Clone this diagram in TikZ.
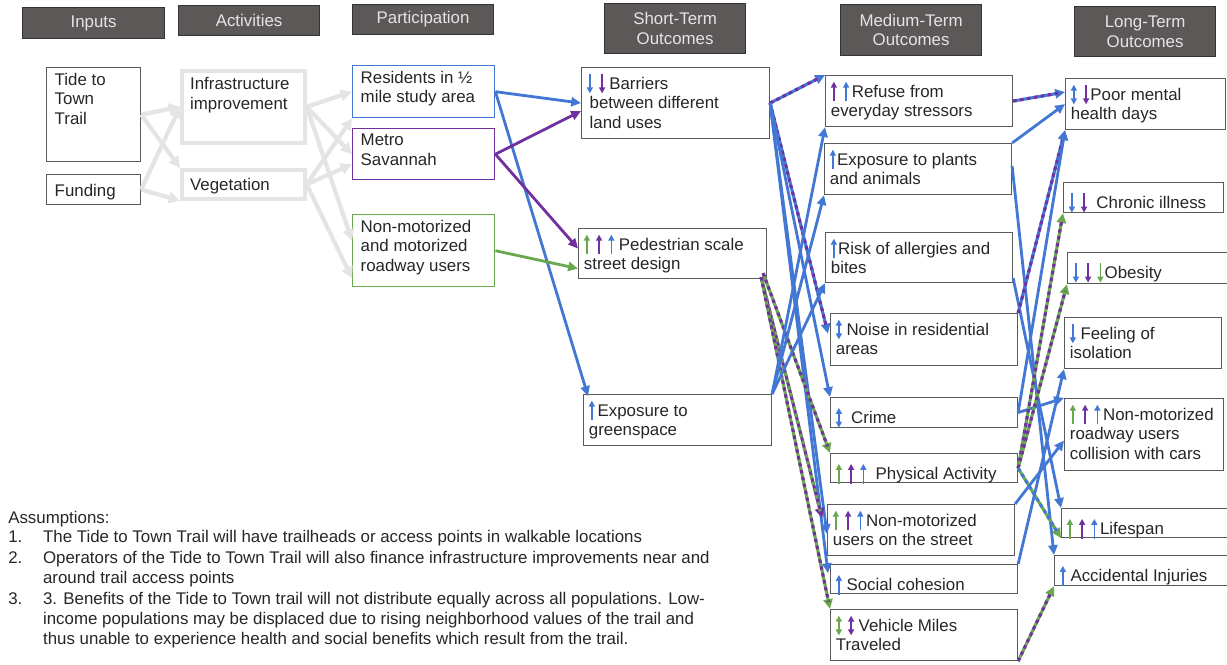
\documentclass[tikz,border=0pt]{standalone}
\usepackage{fontspec}
\setmainfont{Liberation Sans}
\usetikzlibrary{positioning,arrows.meta,calc}

\definecolor{lmblue}{RGB}{66,120,212}
\definecolor{lmpurple}{RGB}{112,48,160}
\definecolor{lmgreen}{RGB}{106,168,79}
\definecolor{hdrgray}{RGB}{92,88,88}
\definecolor{hdrtext}{RGB}{228,228,228}
\definecolor{ltgray}{RGB}{228,228,228}
\definecolor{boxline}{RGB}{90,90,90}

% small arrows inside the boxes
\newcommand{\upa}[1]{\tikz[x=1pt,y=1pt,baseline=0pt]\draw[draw=#1,line width=1.1pt,-{Triangle[length=4.2pt,width=4.2pt]}] (0,-3) -- (0,11);}
\newcommand{\dna}[1]{\tikz[x=1pt,y=1pt,baseline=0pt]\draw[draw=#1,line width=1.1pt,-{Triangle[length=4.2pt,width=4.2pt]}] (0,11) -- (0,-3);}
\newcommand{\uda}[1]{\tikz[x=1pt,y=1pt,baseline=0pt]\draw[draw=#1,line width=1.1pt,{Triangle[length=4.2pt,width=4.2pt]}-{Triangle[length=4.2pt,width=4.2pt]}] (0,-3) -- (0,11);}
\newcommand{\ag}{\hspace{4.5pt}}

\begin{document}
\begin{tikzpicture}[x=0.025cm, y=-0.025cm, font=\fontsize{12}{14}\selectfont,
  sz/.style 2 args={minimum width=#1*0.025cm, minimum height=#2*0.025cm},
  box/.style={draw=boxline, line width=0.8pt, anchor=north west, inner sep=0pt},
  actbox/.style={draw=ltgray, line width=2.6pt, anchor=north west, inner sep=0pt},
  hdr/.style={fill=hdrgray, draw=black!80, line width=0.8pt, anchor=north west, inner sep=0pt, text=hdrtext, align=center},
  txt/.style={anchor=north west, align=left, inner sep=4pt, text=black!85},
  txtone/.style={txt, yshift=-3pt},
  grayarr/.style={draw=ltgray, line width=3pt, -{Triangle[length=8pt,width=8pt]}},
  linearr/.style={line width=2pt, -{Triangle[length=7pt,width=6.5pt]}},
  bluearr/.style={linearr, draw=lmblue},
  purparr/.style={linearr, draw=lmpurple},
  grnarr/.style={linearr, draw=lmgreen},
  mixarr/.style 2 args={linearr, line width=2.2pt, draw=#1, postaction={draw=#2, dash pattern=on 2.5pt off 2.5pt, shorten >=5pt, -}}
]
\useasboundingbox (0,0) rectangle (1227,664);

%% headers
\node[hdr, sz={142}{31}] (hin)  at (22,7)   {Inputs};
\node[hdr, sz={141}{30}] (hact) at (178,5)  {Activities};
\node[hdr, sz={141}{30}] (hpar) at (352,4)  {Participation};
\node[hdr, sz={141}{50}] (hst)  at (604,3)  {Short-Term\\Outcomes};
\node[hdr, sz={141}{51}] (hmt)  at (840,4)  {Medium-Term\\Outcomes};
\node[hdr, sz={141}{50}] (hlt)  at (1074,6) {Long-Term\\Outcomes};

%% inputs and activities
\node[box, sz={94}{94}] (tide) at (46,67) {};
\node[txt, xshift=2pt] (tidet) at (tide.north west) {Tide to\\Town\\Trail};
\node[box, sz={94}{30}] (fund) at (46,174) {};
\node[txtone, xshift=2pt] (fundt) at (fund.north west) {Funding};

\node[actbox, sz={123}{72}] (infra) at (180,69) {};
\node[txt, xshift=3pt, yshift=-2pt] (infrat) at (infra.north west) {Infrastructure\\improvement};
\node[actbox, sz={123}{29}] (veg) at (180,168) {};
\node[txtone, xshift=3pt] (vegt) at (veg.north west) {Vegetation};

%% participation
\node[box, draw=lmblue, line width=1pt, sz={142}{52}] (res) at (352,65) {};
\node[txt, xshift=2pt] (rest) at (res.north west) {Residents in ½\\mile study area};
\node[box, draw=lmpurple, line width=1pt, sz={142}{51}] (metro) at (352,128) {};
\node[txt, xshift=2pt] (metrot) at (metro.north west) {Metro\\Savannah};
\node[box, draw=lmgreen, line width=1pt, sz={142}{72}] (nmr) at (352,214) {};
\node[txt, xshift=2pt] (nmrt) at (nmr.north west) {Non-motorized\\and motorized\\roadway users};

%% short-term outcomes
\node[box, sz={188}{71}] (barr) at (581,67) {};
\node[txt] (barrt) at (barr.north west) {\dna{lmblue}\ag\dna{lmpurple}\hspace{3pt}Barriers\\\hspace{2pt}between different\\\hspace{2pt}land uses};
\node[box, sz={188}{50}] (ped) at (578,228) {};
\node[txt] (pedt) at (ped.north west) {\upa{lmgreen}\ag\upa{lmpurple}\ag\upa{lmblue}\ Pedestrian scale\\street design};
\node[box, sz={188}{51}] (green) at (583,394) {};
\node[txt] (greent) at (green.north west) {\upa{lmblue}\hspace{2pt}Exposure to\\greenspace};

%% medium-term outcomes
\node[box, sz={187}{51}] (ref) at (825,75) {};
\node[txt] (reft) at (ref.north west) {\upa{lmpurple}\ag\upa{lmblue}\hspace{2pt}Refuse from\\everyday stressors};
\node[box, sz={187}{51}] (plants) at (824,143) {};
\node[txt] (plantst) at (plants.north west) {\upa{lmblue}\hspace{1pt}Exposure to plants\\and animals};
\node[box, sz={187}{50}] (risk) at (825,232) {};
\node[txt] (riskt) at (risk.north west) {\upa{lmblue}\hspace{1pt}Risk of allergies and\\bites};
\node[box, sz={187}{52}] (noise) at (830,313) {};
\node[txt] (noiset) at (noise.north west) {\uda{lmblue}\ Noise in residential\\areas};
\node[box, sz={187}{30}] (crime) at (830,397) {};
\node[txtone] (crimet) at (crime.north west) {\uda{lmblue}\ \ Crime};
\node[box, sz={187}{29}] (phys) at (830,453) {};
\node[txtone] (physt) at (phys.north west) {\upa{lmgreen}\ag\upa{lmpurple}\ag\upa{lmblue}\ \ Physical Activity};
\node[box, sz={187}{51}] (nmu) at (827,504) {};
\node[txt] (nmut) at (nmu.north west) {\upa{lmgreen}\ag\upa{lmpurple}\ag\upa{lmblue}\hspace{2pt}Non-motorized\\users on the street};
\node[box, sz={187}{29}] (soc) at (830,564) {};
\node[txtone] (soct) at (soc.north west) {\upa{lmblue}\ Social cohesion};
\node[box, sz={187}{51}] (vmt) at (830,609) {};
\node[txt] (vmtt) at (vmt.north west) {\uda{lmgreen}\ag\uda{lmpurple}\ Vehicle Miles\\Traveled};

%% long-term outcomes
\node[box, sz={160}{51}] (pmh) at (1065,78) {};
\node[txt] (pmht) at (pmh.north west) {\uda{lmblue}\ag\dna{lmpurple}\hspace{1pt}Poor mental\\health days};
\node[box, sz={160}{30}] (chr) at (1063,182) {};
\node[txtone] (chrt) at (chr.north west) {\dna{lmblue}\ag\dna{lmpurple}\ \ Chronic illness};
\node[box, sz={163}{31}] (obe) at (1067,252) {};
\node[txtone] (obet) at (obe.north west) {\dna{lmblue}\ag\dna{lmpurple}\ag\dna{lmgreen}\hspace{1pt}Obesity};
\node[box, sz={157}{51}] (iso) at (1064,317) {};
\node[txt] (isot) at (iso.north west) {\dna{lmblue}\ Feeling of\\isolation};
\node[box, sz={159}{72}] (col) at (1064,398) {};
\node[txt] (colt) at (col.north west) {\upa{lmgreen}\ag\upa{lmpurple}\ag\upa{lmblue}\hspace{2pt}Non-motorized\\roadway users\\collision with cars};
\node[box, sz={169}{29}] (life) at (1061,508) {};
\node[txtone] (lifet) at (life.north west) {\upa{lmgreen}\ag\upa{lmpurple}\ag\upa{lmblue}\hspace{2pt}Lifespan};
\node[box, sz={176}{30}] (acc) at (1054,555) {};
\node[txtone] (acct) at (acc.north west) {\upa{lmblue}\ Accidental Injuries};

%% inputs -> activities -> participation
\draw[grayarr] (tide.east) -- (infra.west);
\draw[grayarr] (tide.east) -- (veg.north west);
\draw[grayarr] (fund.east) -- (infra.west);
\draw[grayarr] (fund.east) -- (veg.south west);
\draw[grayarr] (infra.east) -- (res.west);
\draw[grayarr] (infra.east) -- (metro.west);
\draw[grayarr] (infra.east) -- ($(nmr.west)+(0,-10)$);
\draw[grayarr] (veg.east) -- (res.south west);
\draw[grayarr] (veg.east) -- ($(metro.west)+(0,10)$);
\draw[grayarr] (veg.east) -- ($(nmr.south west)+(0,-9)$);

%% participation -> short-term
\draw[bluearr] (res.east) -- (barr.west);
\draw[bluearr] (res.east) -- ($(green.north west)+(5,2)$);
\draw[purparr] (metro.east) -- ($(barr.west)+(0,8)$);
\draw[purparr] (metro.east) -- ($(ped.west)+(0,-5)$);
\draw[grnarr] (nmr.east) -- ($(ped.west)+(0,15)$);

%% short-term -> medium-term
\draw[mixarr={lmblue}{lmpurple}] (barr.east) -- (ref.north west);
\draw[mixarr={lmblue}{lmpurple}] (barr.east) -- ($(noise.west)+(-2,-6)$);
\draw[bluearr] (barr.east) -- (crime.north west);
\draw[bluearr] (barr.east) -- ($(nmu.west)+(0,4)$);
\draw[bluearr] (barr.east) -- ($(soc.west)+(-2,-6)$);
\draw[mixarr={lmgreen}{lmpurple}] ($(ped.south east)+(-4,-6)$) -- (phys.north west);
\draw[mixarr={lmpurple}{lmgreen}] ($(ped.south east)+(-6,-2)$) -- ($(nmu.west)+(-5,-12)$);
\draw[mixarr={lmgreen}{lmpurple}] ($(ped.south east)+(-6,-2)$) -- (vmt.north west);
\draw[bluearr] (green.north east) -- (ref.south west);
\draw[bluearr] (green.north east) -- (plants.south west);
\draw[bluearr] (green.north east) -- (risk.south west);

%% medium-term -> long-term
\draw[mixarr={lmblue}{lmpurple}] (ref.east) -- ($(pmh.west)+(0,-12)$);
\draw[bluearr] (plants.north east) -- (pmh.west);
\draw[bluearr] ($(plants.east)+(0,-3)$) -- (acc.north west);
\draw[bluearr] ($(risk.south east)+(0,-5)$) -- (life.north west);
\draw[mixarr={lmblue}{lmpurple}] (noise.north east) -- (pmh.south west);
\draw[bluearr] (crime.east) -- (pmh.south west);
\draw[bluearr] (crime.east) -- (col.north west);
\draw[mixarr={lmgreen}{lmpurple}] (phys.east) -- (chr.south west);
\draw[mixarr={lmgreen}{lmpurple}] (phys.east) -- (obe.south west);
\draw[mixarr={lmgreen}{lmblue}] (phys.east) -- (life.south west);
\draw[bluearr] (nmu.north east) -- ($(col.west)+(0,6)$);
\draw[bluearr] (soc.north east) -- (iso.south west);
\draw[mixarr={lmgreen}{lmpurple}] (vmt.south east) -- (acc.south west);

%% assumptions
\node[anchor=north west, inner sep=0pt, text=black!85] (assume) at (8,509) {%
\begin{tabular}{@{}p{0.87cm}@{}l@{}}
\multicolumn{2}{@{}l@{}}{Assumptions:}\\
1. & The Tide to Town Trail will have trailheads or access points in walkable locations\\[1pt]
2. & Operators of the Tide to Town Trail will also finance infrastructure improvements near and\\
   & around trail access points\\[1pt]
3. & 3. Benefits of the Tide to Town trail will not distribute equally across all populations. Low-\\
   & income populations may be displaced due to rising neighborhood values of the trail and\\
   & thus unable to experience health and social benefits which result from the trail.
\end{tabular}};

\end{tikzpicture}
\end{document}
